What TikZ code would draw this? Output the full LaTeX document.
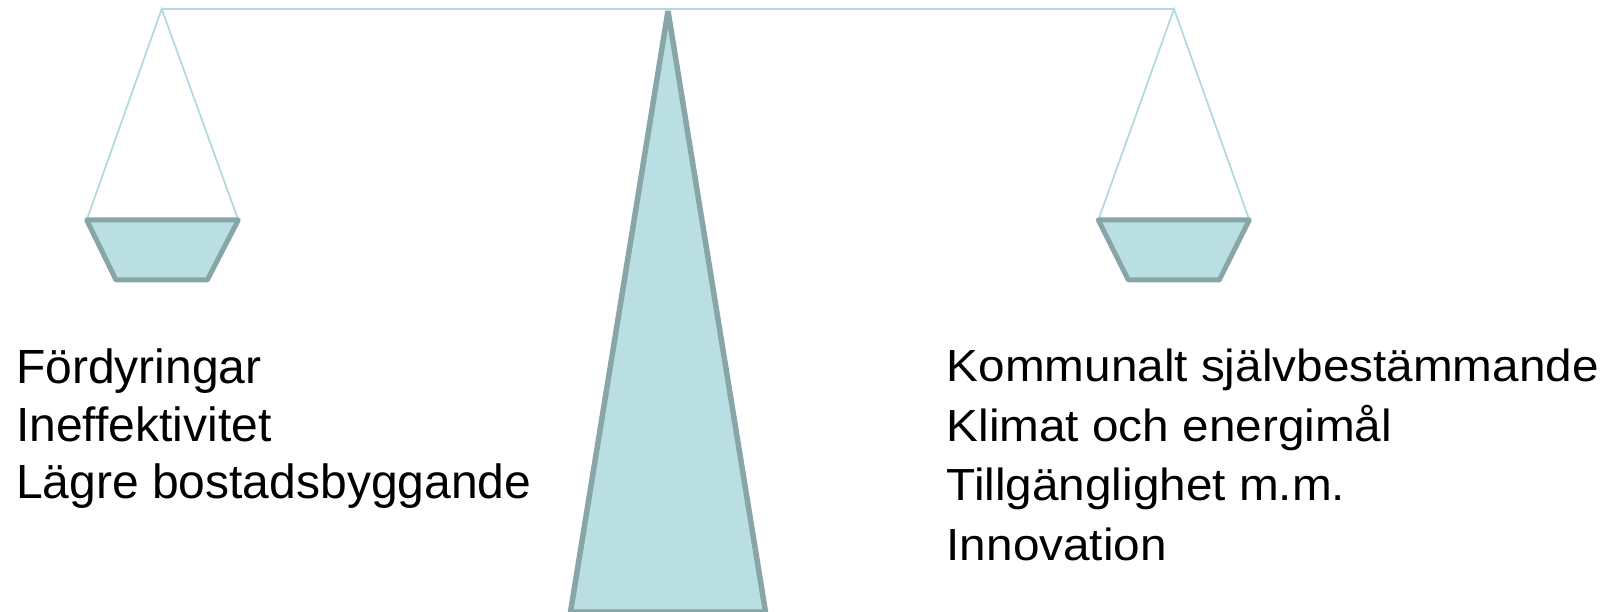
\documentclass[tikz,border=0pt]{standalone}
\usepackage{fontspec}
\setmainfont{Liberation Sans}
\definecolor{panfill}{HTML}{BADFE3}
\definecolor{panedge}{HTML}{88A6A8}
\definecolor{cord}{HTML}{B3DBDF}
\tikzset{
  cordline/.style={draw=cord, line width=1.8pt},
  beamline/.style={draw=cord, line width=2.2pt},
  panshape/.style={fill=panfill, draw=panedge, line width=5pt, line join=round},
  postshape/.style={fill=panfill, draw=panedge, line width=5.5pt, line join=bevel},
  lefttext/.style={anchor=base west, inner sep=0pt, font=\fontsize{48}{48}\selectfont},
  righttext/.style={anchor=base west, inner sep=0pt, font=\fontsize{45}{45}\selectfont},
}
\begin{document}
\begin{tikzpicture}[x=1pt, y=-1pt]
\useasboundingbox (0,0) rectangle (1609,612);
% hanging points
\coordinate (hl) at (161.7,9);
\coordinate (hr) at (1174,9);
% left pan corners
\coordinate (l1) at (86.7,220);
\coordinate (l2) at (238.3,220);
\coordinate (l3) at (207.3,280);
\coordinate (l4) at (116,280);
% right pan corners
\coordinate (r1) at (1098.3,220);
\coordinate (r2) at (1249.3,220);
\coordinate (r3) at (1219.3,280);
\coordinate (r4) at (1128.3,280);
% post
\coordinate (apex) at (668,11);
\coordinate (pbl) at (570.5,612);
\coordinate (pbr) at (765.5,612);

% post
\path[postshape] (apex) -- (pbr) -- (pbl) -- cycle;
% beam
\draw[beamline] (hl) -- (hr);
% cords
\draw[cordline] (l1) -- (hl) -- (l2);
\draw[cordline] (r1) -- (hr) -- (r2);
% pans
\path[panshape] (l1) -- (l2) -- (l3) -- (l4) -- cycle;
\path[panshape] (r1) -- (r2) -- (r3) -- (r4) -- cycle;

% left text
\node[lefttext] (a1) at (16,383) {Fördyringar};
\node[lefttext] (a2) at (16,441) {Ineffektivitet};
\node[lefttext] (a3) at (16,498) {Lägre bostadsbyggande};
% right text
\node[righttext] (b1) at (946.5,381.5) {\scalebox{1.06}[1]{Kommunalt självbestämmande}};
\node[righttext] (b2) at (946.5,441) {\scalebox{1.06}[1]{Klimat och energimål}};
\node[righttext] (b3) at (946.5,500.5) {\scalebox{1.06}[1]{Tillgänglighet m.m.}};
\node[righttext] (b4) at (946.5,560) {\scalebox{1.06}[1]{Innovation}};
\end{tikzpicture}
\end{document}
